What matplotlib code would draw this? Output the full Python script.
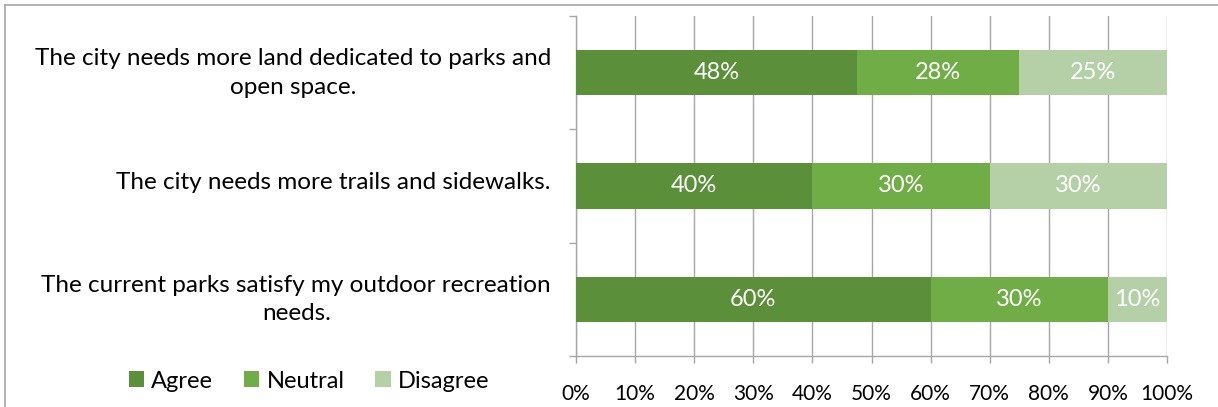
import numpy as np
import matplotlib.pyplot as plt
from matplotlib.lines import Line2D
from matplotlib.ticker import PercentFormatter
from matplotlib.transforms import ScaledTranslation

statements = [
    "The city needs more land dedicated to parks and\nopen space.",
    "The city needs more trails and sidewalks.",
    "The current parks satisfy my outdoor recreation\nneeds.",
]
agree = [47.5, 40, 60]
neutral = [27.5, 30, 30]
disagree = [25, 30, 10]

series = {"Agree": agree, "Neutral": neutral, "Disagree": disagree}
colors = ["#5B8F3A", "#70AD47", "#B5CFA7"]

plt.rcParams["font.family"] = ["Lato", "DejaVu Sans"]
grid_gray = "#A6A6A6"

fig = plt.figure(figsize=(12.18, 4.07), dpi=100)
ax = fig.add_axes([576 / 1218, 1 - 356 / 407, 591 / 1218, 340 / 407])

y = np.arange(len(statements))
left = np.zeros(len(statements))
for (name, vals), col in zip(series.items(), colors):
    vals = np.array(vals, dtype=float)
    bars = ax.barh(y, vals, left=left, height=0.4, color=col, label=name, zorder=3)
    for b, v in zip(bars, vals):
        ax.text(b.get_x() + b.get_width() / 2, b.get_y() + b.get_height() / 2,
                f"{v:.0f}%", ha="center", va="center", color="white",
                fontsize=17, zorder=4)
    left += vals

ax.set_xlim(0, 100)
ax.set_ylim(2.5, -0.5)
ax.set_xticks(np.arange(0, 101, 10))
ax.xaxis.set_major_formatter(PercentFormatter(decimals=0))
ax.set_yticks(y)
ax.set_yticklabels(statements, multialignment="center", linespacing=1.45)
ax.set_yticks([-0.5, 0.5, 1.5, 2.5], minor=True)

ax.tick_params(axis="y", which="major", length=0, pad=18, labelsize=17.5)
ax.tick_params(axis="y", which="minor", length=5, color=grid_gray, width=1)
ax.tick_params(axis="x", length=5, color=grid_gray, width=1, labelsize=15, pad=15)

# nudge the category labels up a little
shift = ScaledTranslation(0, 4 / 72, fig.dpi_scale_trans)
for lbl in ax.get_yticklabels():
    lbl.set_transform(lbl.get_transform() + shift)

ax.grid(axis="x", color=grid_gray, linewidth=1, zorder=0)
for side in ["top", "right"]:
    ax.spines[side].set_visible(False)
for side in ["left", "bottom"]:
    ax.spines[side].set_color(grid_gray)
    ax.spines[side].set_linewidth(1)

ax.legend(loc="center", bbox_to_anchor=(309 / 1218, 1 - 381 / 407),
          bbox_transform=fig.transFigure, ncol=3, frameon=False,
          fontsize=17, handlelength=0.65, handleheight=0.65,
          handletextpad=0.3, columnspacing=1.3)

# outer chart border (top and left edges)
fig.add_artist(Line2D([5 / 1218, 1], [1 - 5 / 407, 1 - 5 / 407],
                      transform=fig.transFigure, color=grid_gray, linewidth=1.2))
fig.add_artist(Line2D([5 / 1218, 5 / 1218], [0, 1 - 5 / 407],
                      transform=fig.transFigure, color=grid_gray, linewidth=1.2))

fig.savefig("out.png", dpi=100)
